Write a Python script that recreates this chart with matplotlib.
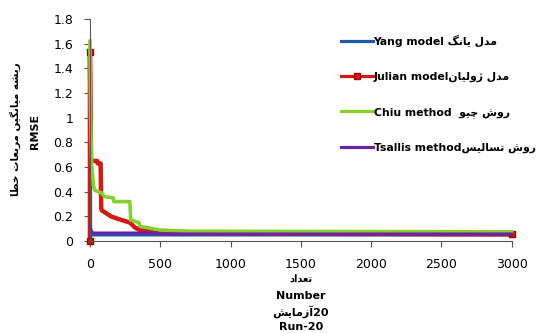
import matplotlib
matplotlib.use('Agg')
import matplotlib.pyplot as plt
from matplotlib.lines import Line2D

# presentation forms: isolated, final, initial, medial
FORMS = {
    'ا': ('\uFE8D', '\uFE8E', None, None),
    'آ': ('\uFE81', '\uFE82', None, None),
    'ب': ('\uFE8F', '\uFE90', '\uFE91', '\uFE92'),
    'ت': ('\uFE95', '\uFE96', '\uFE97', '\uFE98'),
    'ج': ('\uFE9D', '\uFE9E', '\uFE9F', '\uFEA0'),
    'چ': ('\uFB7A', '\uFB7B', '\uFB7C', '\uFB7D'),
    'خ': ('\uFEA5', '\uFEA6', '\uFEA7', '\uFEA8'),
    'ط': ('\uFEC1', '\uFEC2', '\uFEC3', '\uFEC4'),
    'د': ('\uFEA9', '\uFEAA', None, None),
    'ر': ('\uFEAD', '\uFEAE', None, None),
    'ز': ('\uFEAF', '\uFEB0', None, None),
    'ژ': ('\uFB8A', '\uFB8B', None, None),
    'س': ('\uFEB1', '\uFEB2', '\uFEB3', '\uFEB4'),
    'ش': ('\uFEB5', '\uFEB6', '\uFEB7', '\uFEB8'),
    'ع': ('\uFEC9', '\uFECA', '\uFECB', '\uFECC'),
    'گ': ('\uFB92', '\uFB93', '\uFB94', '\uFB95'),
    'ل': ('\uFEDD', '\uFEDE', '\uFEDF', '\uFEE0'),
    'م': ('\uFEE1', '\uFEE2', '\uFEE3', '\uFEE4'),
    'ن': ('\uFEE5', '\uFEE6', '\uFEE7', '\uFEE8'),
    'و': ('\uFEED', '\uFEEE', None, None),
    'ه': ('\uFEE9', '\uFEEA', '\uFEEB', '\uFEEC'),
    'ی': ('\uFBFC', '\uFBFD', '\uFBFE', '\uFBFF'),
}


def rtl(s):
    # shape persian letters and put them in visual order
    out = []
    for i, c in enumerate(s):
        if c not in FORMS:
            out.append(c)
            continue
        prev = s[i - 1] if i > 0 else ''
        nxt = s[i + 1] if i + 1 < len(s) else ''
        jp = prev in FORMS and FORMS[prev][2] is not None
        jn = nxt in FORMS and FORMS[c][2] is not None
        iso, fin, ini, med = FORMS[c]
        if jp and jn:
            out.append(med)
        elif jp:
            out.append(fin)
        elif jn:
            out.append(ini)
        else:
            out.append(iso)
    return ''.join(out[::-1])


labels = ['Yang model ' + rtl('مدل یانگ'),
          'Julian model' + rtl('مدل ژولیان'),
          'Chiu method  ' + rtl('روش چیو'),
          'Tsallis method' + rtl('روش تسالیس')]

yang_x = [0, 20, 3000]
yang_y = [0.06, 0.05, 0.05]

julian_x = [0, 0, 8, 30, 52, 55, 76, 80, 83, 150, 200, 284, 320, 355, 450, 600, 1000, 3000]
julian_y = [0.0, 1.53, 0.65, 0.65, 0.65, 0.63, 0.63, 0.27, 0.25, 0.2, 0.18, 0.15, 0.11, 0.09, 0.075, 0.065, 0.06, 0.055]

chiu_x = [0, 5, 12, 25, 36, 83, 106, 166, 170, 284, 290, 350, 355, 497, 700, 3000]
chiu_y = [1.62, 1.0, 0.62, 0.45, 0.41, 0.39, 0.36, 0.35, 0.32, 0.32, 0.17, 0.15, 0.12, 0.09, 0.08, 0.075]

tsallis_x = [0, 10, 24, 475, 500, 3000]
tsallis_y = [0.12, 0.08, 0.065, 0.065, 0.057, 0.057]

colors = ['#1f5aa6', '#d11a14', '#86d02c', '#6a22a8']

fig = plt.figure(figsize=(5.45, 3.33), dpi=100)
ax = fig.add_axes([0.165, 0.276, 0.774, 0.667])

ax.plot(yang_x, yang_y, color=colors[0], lw=2.3, clip_on=False)
ax.plot(julian_x, julian_y, color=colors[1], lw=3.2, marker='s', ms=4,
        mec='#a00000', markevery=[0, 1, len(julian_x) - 1], clip_on=False)
ax.plot(chiu_x, chiu_y, color=colors[2], lw=2.6, clip_on=False)
ax.plot(tsallis_x, tsallis_y, color=colors[3], lw=2.3, clip_on=False)

ax.set_xlim(0, 3000)
ax.set_ylim(0, 1.8)
ax.set_xticks(range(0, 3001, 500))
ax.set_yticks([0, 0.2, 0.4, 0.6, 0.8, 1, 1.2, 1.4, 1.6, 1.8])
ax.set_yticklabels(['0', '0.2', '0.4', '0.6', '0.8', '1', '1.2', '1.4', '1.6', '1.8'])
ax.tick_params(labelsize=9, direction='out', length=4, color='#555555', pad=8)
ax.spines['top'].set_visible(False)
ax.spines['right'].set_visible(False)
for s in ['left', 'bottom']:
    ax.spines[s].set_color('#555555')

handles = [Line2D([], [], color=colors[0], lw=2.3),
           Line2D([], [], color=colors[1], lw=2.3, marker='s', ms=4, mec='#a00000'),
           Line2D([], [], color=colors[2], lw=2.3),
           Line2D([], [], color=colors[3], lw=2.3)]
fig.legend(handles, labels, loc='upper left', bbox_to_anchor=(0.607, 0.925),
           frameon=False, handlelength=3.0, handletextpad=0.05, labelspacing=2.3,
           prop={'size': 7.8, 'weight': 'bold'})

fig.text(0.028, 0.612, rtl('ریشه میانگین مربعات خطا'), rotation=90,
         ha='center', va='center', fontsize=7.5, fontweight='bold')
fig.text(0.064, 0.604, 'RMSE', rotation=90, ha='center', va='center',
         fontsize=8, fontweight='bold')

fig.text(0.552, 0.163, rtl('تعداد'), ha='center', va='center', fontsize=7, fontweight='bold')
fig.text(0.552, 0.111, 'Number', ha='center', va='center', fontsize=8, fontweight='bold')
fig.text(0.552, 0.063, rtl('آزمایش') + '20', ha='center', va='center', fontsize=8, fontweight='bold')
fig.text(0.552, 0.018, 'Run-20', ha='center', va='center', fontsize=8, fontweight='bold')

fig.savefig('out.png', dpi=100)
